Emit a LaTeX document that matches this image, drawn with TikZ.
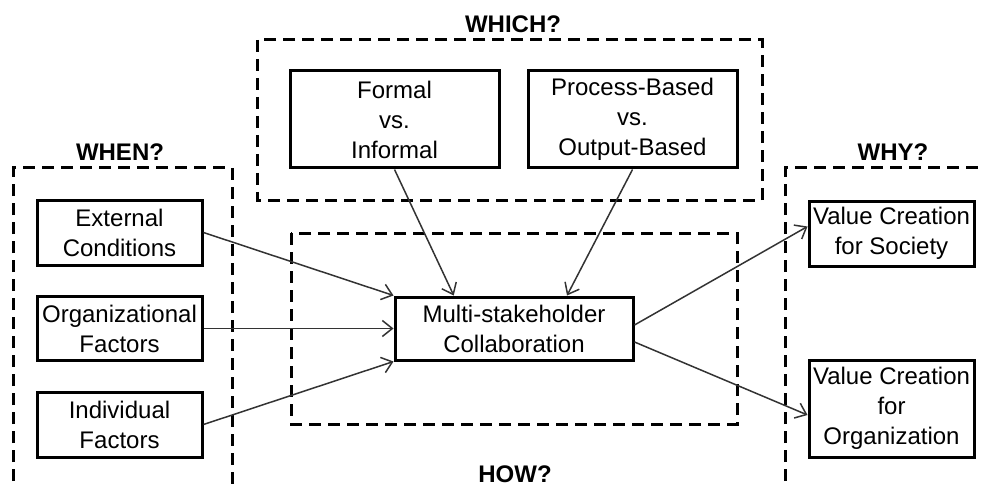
\documentclass[tikz,border=0pt]{standalone}
\usepackage{fontspec}
\setmainfont{Liberation Sans}
\usetikzlibrary{arrows.meta,calc}

\begin{document}
\begin{tikzpicture}[x=0.5pt,y=-0.5pt,
        frame/.style={line width=1.5pt, dash pattern=on 6pt off 3.5pt},
        block/.style={draw, line width=1.5pt, align=center, inner sep=0pt,
            font=\fontsize{12}{15}\selectfont},
        heading/.style={font=\fontsize{12}{15}\selectfont\bfseries},
        link/.style={-{Straight Barb[length=5pt,width=8pt]}, line width=0.75pt, black!80}]
        \useasboundingbox (0,0) rectangle (983,486);

        \draw[frame] (13,500) |- (232,168) -- (232,500);
        \draw[frame] (257,40) rectangle (762,200);
        \draw[frame] (291,233) rectangle (737,424);
        \draw[frame] (785,500) |- (995,168);

        \node[heading] (when) at (120,152) {WHEN?};
        \node[heading] (which) at (513,24) {WHICH?};
        \node[heading] (how) at (515,474) {HOW?};
        \node[heading] (why) at (893,152) {WHY?};

        \node[block, minimum width=82.5pt, minimum height=32.5pt] (ext) at (119.5,232.5) {External\\Conditions};
        \node[block, minimum width=82.5pt, minimum height=32pt] (org) at (119.5,328.5) {Organizational\\Factors};
        \node[block, minimum width=82.5pt, minimum height=32.5pt] (ind) at (119.5,424.5) {Individual\\Factors};

        \node[block, minimum width=104.5pt, minimum height=48.5pt] (formal) at (394.5,119.5) {Formal\\vs.\\Informal};
        \node[block, minimum width=104.5pt, minimum height=48.5pt] (process) at (632.5,119.5) {Process-Based\\vs.\\Output-Based};

        \node[block, minimum width=119pt, minimum height=31.5pt] (msc) at (514,328.5) {Multi-stakeholder\\Collaboration};

        \node[block, minimum width=82.5pt, minimum height=32.5pt] (society) at (891.5,233.5) {Value Creation\\for Society};
        \node[block, minimum width=82.5pt, minimum height=48.5pt] (organization) at (891.5,408.5) {Value Creation\\for\\Organization};

        \draw[link] (ext.east) -- (msc.north west);
        \draw[link] (org.east) -- (msc.west);
        \draw[link] (ind.east) -- (msc.south west);
        \draw[link] (formal.south) -- ($(msc.north west)!0.25!(msc.north east)$);
        \draw[link] (process.south) -- ($(msc.north west)!0.72!(msc.north east)$);
        \draw[link] ([yshift=1.75pt]msc.east) -- ([yshift=3.5pt]society.west);
        \draw[link] ([yshift=-6.75pt]msc.east) -- ([yshift=-3.25pt]organization.west);
    \end{tikzpicture}
\end{document}
